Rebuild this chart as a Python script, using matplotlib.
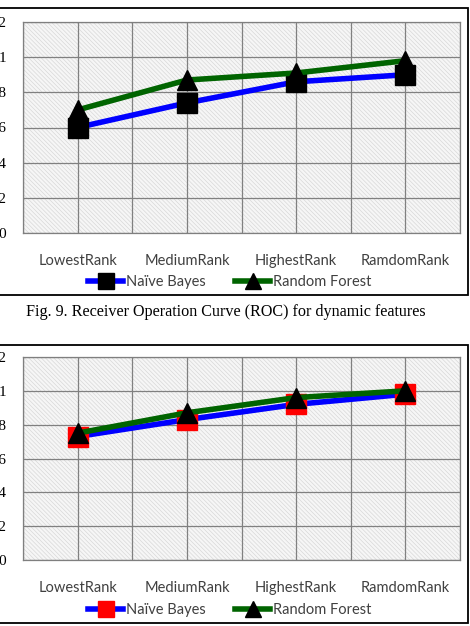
import matplotlib
matplotlib.use("Agg")
import matplotlib.pyplot as plt
from matplotlib.patches import Rectangle
from matplotlib.lines import Line2D

# dati
categorie = ["LowestRank", "MediumRank", "HighestRank", "RamdomRank"]
nb_top = [0.60, 0.74, 0.86, 0.90]
rf_top = [0.70, 0.87, 0.91, 0.98]
nb_bot = [0.73, 0.83, 0.92, 0.98]
rf_bot = [0.75, 0.87, 0.96, 1.00]
yticks = [0, 0.2, 0.4, 0.6, 0.8, 1.0, 1.2]
ytick_labels = ["0", "0.2", "0.4", "0.6", "0.8", "1", "1.2"]
didascalia = "Fig. 9. Receiver Operation Curve (ROC) for dynamic features"

W, H = 470, 626
plt.rcParams["hatch.linewidth"] = 0.5
fig = plt.figure(figsize=(W / 100, H / 100), dpi=100)


def rect(l, t, r, b):
    # pixel -> coordinate della figura
    return [l / W, 1 - b / H, (r - l) / W, (b - t) / H]


def box(t, b):
    fig.add_artist(Rectangle((-5 / W, 1 - b / H), (468 + 5) / W, (b - t) / H,
                             transform=fig.transFigure, fill=False,
                             edgecolor="black", lw=1.3))


def pannello(pos, nb, rf, nb_marker_col, legend_y):
    ax = fig.add_axes(rect(*pos))
    x = list(range(len(categorie)))
    ax.add_patch(Rectangle((0, 0), 1, 1, transform=ax.transAxes,
                           facecolor="#f6f6f6", hatch="\\\\\\\\\\\\\\\\",
                           edgecolor="#d8d8d8", lw=0, zorder=0))
    ax.plot(x, nb, color="#0000ff", lw=4, marker="s", ms=14,
            mfc=nb_marker_col, mec=nb_marker_col, zorder=3)
    ax.plot(x, rf, color="#006400", lw=4, marker="^", ms=15,
            mfc="black", mec="black", zorder=4)
    ax.set_xlim(-0.5, 3.5)
    ax.set_ylim(0, 1.2)
    ax.set_xticks([-0.5, 0, 0.5, 1, 1.5, 2, 2.5, 3, 3.5])
    ax.set_xticklabels([])
    ax.set_yticks(yticks)
    ax.set_yticklabels(ytick_labels, family="Liberation Serif", fontsize=11)
    ax.tick_params(length=0, pad=12)
    ax.grid(True, color="#808080", lw=0.9)
    ax.set_axisbelow(True)
    for s in ax.spines.values():
        s.set_color("#7f7f7f")
        s.set_linewidth(0.9)
    for i, c in enumerate(categorie):
        ax.annotate(c, (i, 0), xycoords="data", xytext=(0, -20),
                    textcoords="offset points", ha="center", va="center",
                    family="Lato", fontsize=10.5, color="#404040")
    handles = [
        Line2D([], [], color="#0000ff", lw=4, marker="s", ms=12,
               mfc=nb_marker_col, mec=nb_marker_col),
        Line2D([], [], color="#006400", lw=4, marker="^", ms=12,
               mfc="black", mec="black"),
    ]
    fig.legend(handles, ["Naïve Bayes", "Random Forest"], ncol=2,
               loc="center", bbox_to_anchor=(230 / W, 1 - legend_y / H),
               frameon=False, handlelength=2.4, handletextpad=0.2,
               columnspacing=2.0,
               prop={"family": "Lato", "size": 10.5})
    for t in fig.legends[-1].get_texts():
        t.set_color("#404040")
    return ax


box(8, 295)
pannello((23, 22, 460, 233), nb_top, rf_top, "black", 282)
fig.text(226 / W, 1 - 312 / H, didascalia, ha="center", va="center",
         family="Liberation Serif", fontsize=11.6)

box(345, 623)
pannello((23, 357, 460, 560), nb_bot, rf_bot, "red", 610)

fig.savefig("out.png", dpi=100)
